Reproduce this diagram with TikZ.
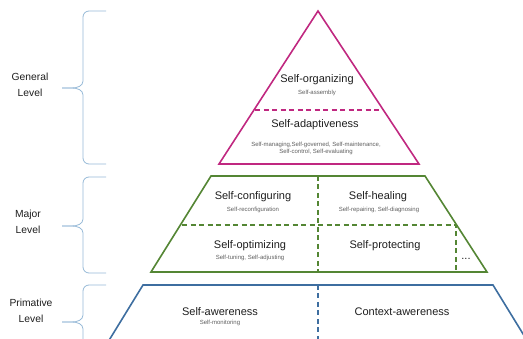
\documentclass[tikz,border=0pt]{standalone}
\usepackage{fontspec}
\setmainfont{Liberation Sans}
\definecolor{mag}{RGB}{192,40,128}
\definecolor{grn}{RGB}{84,134,52}
\definecolor{blu}{RGB}{62,110,160}
\definecolor{brc}{RGB}{150,185,215}
\definecolor{txt}{RGB}{30,30,30}
\definecolor{sub}{RGB}{95,95,95}
\tikzset{
  big/.style={font=\fontsize{11}{12}\selectfont, text=txt, inner sep=0pt},
  small/.style={font=\fontsize{6}{7}\selectfont, text=sub, inner sep=0pt, align=center},
  lvl/.style={font=\fontsize{10.3}{16}\selectfont, text=txt, align=center, inner sep=0pt},
  edge/.style={line width=1.6pt, line join=miter},
  dsh/.style={line width=1.3pt, dash pattern=on 5pt off 3.5pt},
  brace/.style={draw=brc, line width=0.8pt}
}
\begin{document}
\begin{tikzpicture}[x=1pt,y=-1pt]
\useasboundingbox (0,0) rectangle (523,339);
\begin{scope}
\clip (0,0) rectangle (523,339);
% general triangle
\draw[edge, draw=mag] (318,11) -- (419,164) -- (219,164) -- cycle;
\draw[dsh, draw=mag] (255,110) -- (380,110);
% major trapezoid
\draw[edge, draw=grn] (211,176) -- (425,176) -- (487,272) -- (151,272) -- cycle;
\draw[dsh, draw=grn] (318,176) -- (318,272);
\draw[dsh, draw=grn] (182,225) -- (456,225) -- (456,272);
% primitive
\draw[edge, draw=blu] (108,342) -- (143,285) -- (493,285) -- (528,342);
\draw[dsh, draw=blu] (318,285) -- (318,339);
% braces
\foreach \ya/\ym/\yb in {11/88/164, 177/226/273, 285/322/359}{
  \draw[brace] (106,\ya) -- (89,\ya) to[out=180,in=90] (83,\ya+6) -- (83,\ym-7)
     to[out=-90,in=0] (72,\ym) -- (62,\ym);
  \draw[brace] (62,\ym) -- (72,\ym) to[out=0,in=90] (83,\ym+7) -- (83,\yb-6)
     to[out=-90,in=180] (89,\yb) -- (106,\yb);
}
\end{scope}
% texts
\node[big] (so) at (317,80) {Self-organizing};
\node[small] (sa) at (317,93) {Self-assembly};
\node[big] (sad) at (315,125) {Self-adaptiveness};
\node[small] (sadsub) at (316,148.5) {Self-managing,Self-governed, Self-maintenance,\\[-0.5pt]Self-control, Self-evaluating};
\node[big] (sc) at (253,197) {Self-configuring};
\node[small] (scs) at (253,210) {Self-reconfiguration};
\node[big] (sh) at (378,197) {Self-healing};
\node[small] (shs) at (379,210) {Self-repairing, Self-diagnosing};
\node[big] (sopt) at (250,246) {Self-optimizing};
\node[small] (sopts) at (250,258) {Self-tuning, Self-adjusting};
\node[big] (sp) at (385,246) {Self-protecting};
\node[big] (dots) at (466,259) {...};
\node[big] (sw) at (220,312) {Self-awereness};
\node[small] (sws) at (220,323) {Self-monitoring};
\node[big] (cw) at (402,312) {Context-awereness};
\node[lvl] (gl) at (30,85) {General\\Level};
\node[lvl] (ml) at (28,222) {Major\\Level};
\node[lvl] (pl) at (31,311) {Primative\\Level};
\end{tikzpicture}
\end{document}
